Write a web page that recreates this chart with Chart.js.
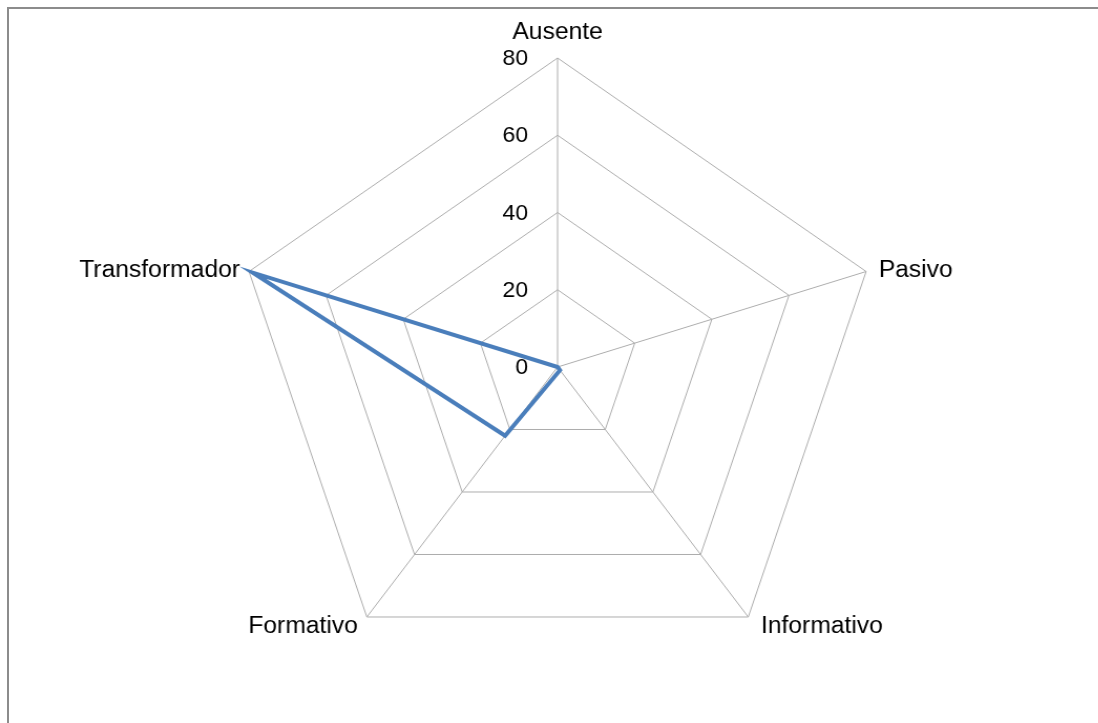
<!DOCTYPE html>
<html>
<head>
<meta charset="utf-8">
<script src="https://cdn.jsdelivr.net/npm/chart.js@4"></script>
<style>
  html, body { margin: 0; padding: 0; background: #fff; }
  #page { position: relative; width: 1098px; height: 723px; overflow: hidden; }
  #frame { position: absolute; left: 7px; top: 7px; width: 1200px; height: 800px;
           border-left: 2px solid #8c8c8c; border-top: 2px solid #8c8c8c; }
  #radar { position: absolute; left: 0; top: 0; transform: scaleX(1.05); transform-origin: 0 0; }
</style>
</head>
<body>
<div id="page">
  <div id="frame"></div>
  <canvas id="radar" width="1046" height="723"></canvas>
</div>
<script>
const labels = ["Ausente", "Pasivo", "Informativo", "Formativo", "Transformador"];
const values = [0, 0, 1, 22, 79];
const tickValues = [0, 20, 40, 60, 80];

const lineColor = "#4a7ebb";
const gridColor = "#adadad";

// ticks sit to the left of the vertical axis, like the original
const sideTicks = {
  id: "sideTicks",
  afterDraw(chart) {
    const r = chart.scales.r;
    const ctx = chart.ctx;
    ctx.save();
    ctx.font = "22px 'Liberation Sans', Arial, sans-serif";
    ctx.fillStyle = "#000";
    ctx.textAlign = "right";
    ctx.textBaseline = "middle";
    tickValues.forEach(v => {
      const y = r.yCenter - r.getDistanceFromCenterForValue(v);
      ctx.fillText(String(v), r.xCenter - 28, y + 1);
    });
    ctx.restore();
  }
};

// category labels placed next to the outer vertices
const cornerLabels = {
  id: "cornerLabels",
  afterDraw(chart) {
    const r = chart.scales.r;
    const ctx = chart.ctx;
    ctx.save();
    ctx.font = "23.5px 'Liberation Sans', Arial, sans-serif";
    ctx.fillStyle = "#000";
    ctx.textBaseline = "middle";
    labels.forEach((txt, i) => {
      const p = r.getPointPosition(i, r.drawingArea);
      let x = p.x, y = p.y;
      if (Math.abs(p.x - r.xCenter) < 1) {
        ctx.textAlign = "center";
        y -= 25;
      } else if (p.x > r.xCenter) {
        ctx.textAlign = "left";
        x += 12;
      } else {
        ctx.textAlign = "right";
        x -= 8.5;
      }
      if (i > 0) y += (p.y < r.yCenter) ? -1 : 10;
      ctx.fillText(txt, x, y);
    });
    ctx.restore();
  }
};

new Chart(document.getElementById("radar").getContext("2d"), {
  type: "radar",
  data: {
    labels: labels,
    datasets: [{
      data: values,
      borderColor: lineColor,
      borderWidth: 4,
      fill: false,
      pointRadius: 0,
      pointHoverRadius: 0,
      tension: 0
    }]
  },
  options: {
    responsive: false,
    animation: false,
    layout: { padding: { left: 222, top: 58, right: 206, bottom: 47 } },
    plugins: { legend: { display: false }, tooltip: { enabled: false } },
    scales: {
      r: {
        min: 0,
        max: 80,
        ticks: { stepSize: 20, display: false },
        grid: { color: gridColor, lineWidth: 1 },
        angleLines: { color: gridColor, lineWidth: 1 },
        pointLabels: { display: false }
      }
    }
  },
  plugins: [sideTicks, cornerLabels]
});
</script>
</body>
</html>
